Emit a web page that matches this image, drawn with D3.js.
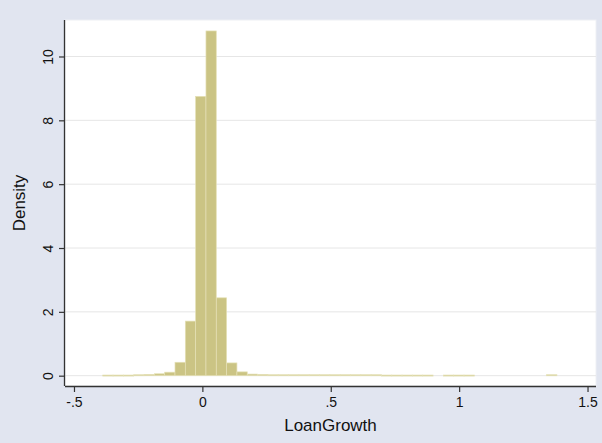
<!DOCTYPE html>
<html>
<head>
<meta charset="utf-8">
<script src="https://cdn.jsdelivr.net/npm/d3@7/dist/d3.min.js"></script>
<style>
  html, body { margin: 0; padding: 0; background: #e1e5f0; }
  svg { display: block; }
  text { font-family: "Liberation Sans", Arial, Helvetica, sans-serif; fill: #111; }
</style>
</head>
<body>
<svg id="chart" width="602" height="443"></svg>
<script>
// ---- data ----
const binStart = -0.388;
const binWidth = 0.0402;
const densities = [
  0.02, 0.02, 0.02, 0.03, 0.04, 0.06, 0.11, 0.42, 1.71, 8.75,
  10.80, 2.44, 0.40, 0.12, 0.05, 0.04, 0.03, 0.03, 0.03, 0.03,
  0.03, 0.03, 0.03, 0.03, 0.03, 0.03, 0.03, 0.02, 0.02, 0.02,
  0.02, 0.02, 0.00, 0.02, 0.02, 0.02, 0.00, 0.00, 0.00, 0.00,
  0.00, 0.00, 0.00, 0.03
];
const xTicks = [-0.5, 0, 0.5, 1, 1.5];
const xTickLabels = ["-.5", "0", ".5", "1", "1.5"];
const yTicks = [0, 2, 4, 6, 8, 10];
const yTickLabels = ["0", "2", "4", "6", "8", "10"];
const xTitle = "LoanGrowth";
const yTitle = "Density";

// ---- layout ----
const W = 602, H = 443;
const plot = { left: 65, right: 596, top: 20, bottom: 386 };

const svg = d3.select("#chart");
svg.append("rect").attr("x", 0).attr("y", 0).attr("width", W).attr("height", H).attr("fill", "#e1e5f0");
svg.append("rect")
  .attr("x", plot.left).attr("y", plot.top)
  .attr("width", plot.right - plot.left).attr("height", plot.bottom - plot.top)
  .attr("fill", "#ffffff").attr("stroke", "#eef0f4").attr("stroke-width", 1);

const x = d3.scaleLinear().domain([-0.535, 1.533]).range([plot.left, plot.right]);
const y = d3.scaleLinear().domain([-0.323, 11.143]).range([plot.bottom, plot.top]);

// gridlines
svg.append("g").selectAll("line").data(yTicks).join("line")
  .attr("x1", plot.left).attr("x2", plot.right)
  .attr("y1", d => y(d)).attr("y2", d => y(d))
  .attr("stroke", "#e6e6e6").attr("stroke-width", 1);

// bars
const bins = densities.map((d, i) => ({ x0: binStart + i * binWidth, x1: binStart + (i + 1) * binWidth, d }));
svg.append("g").selectAll("rect").data(bins.filter(b => b.d > 0)).join("rect")
  .attr("x", b => x(b.x0))
  .attr("width", b => x(b.x1) - x(b.x0))
  .attr("y", b => y(b.d))
  .attr("height", b => Math.max(1, y(0) - y(b.d)))
  .attr("fill", "#cbc484")
  .attr("stroke", "#e4e0b6")
  .attr("stroke-width", 0.7);

// axes
const xAxis = d3.axisBottom(x).tickValues(xTicks).tickFormat((d, i) => xTickLabels[i]).tickSize(6).tickPadding(5);
const gx = svg.append("g").attr("transform", `translate(0,${plot.bottom})`).call(xAxis);
gx.select(".domain").attr("d", `M${plot.left},0.5H${plot.right}`).attr("stroke", "#333").attr("stroke-width", 1.3);
gx.selectAll(".tick line").attr("stroke", "#333").attr("stroke-width", 1.2);
gx.selectAll(".tick text").attr("font-size", 14).attr("font-family", "Liberation Sans, Arial, sans-serif").attr("fill", "#111");

const yAxis = d3.axisLeft(y).tickValues(yTicks).tickFormat((d, i) => yTickLabels[i]).tickSize(6).tickPadding(0);
const gy = svg.append("g").attr("transform", `translate(${plot.left},0)`).call(yAxis);
gy.select(".domain").attr("d", `M-0.5,${plot.top}V${plot.bottom}`).attr("stroke", "#333").attr("stroke-width", 1.3);
gy.selectAll(".tick line").attr("stroke", "#333").attr("stroke-width", 1.2);
gy.selectAll(".tick text")
  .attr("font-size", 14).attr("font-family", "Liberation Sans, Arial, sans-serif").attr("fill", "#111")
  .attr("x", 0).attr("dy", 0)
  .attr("text-anchor", "middle")
  .attr("transform", "translate(-12,0) rotate(-90)");

// titles
svg.append("text")
  .attr("x", (plot.left + plot.right) / 2).attr("y", 431)
  .attr("text-anchor", "middle").attr("font-size", 17)
  .text(xTitle);
svg.append("text")
  .attr("transform", `translate(25,${(plot.top + plot.bottom) / 2}) rotate(-90)`)
  .attr("text-anchor", "middle").attr("font-size", 17)
  .text(yTitle);
</script>
</body>
</html>
